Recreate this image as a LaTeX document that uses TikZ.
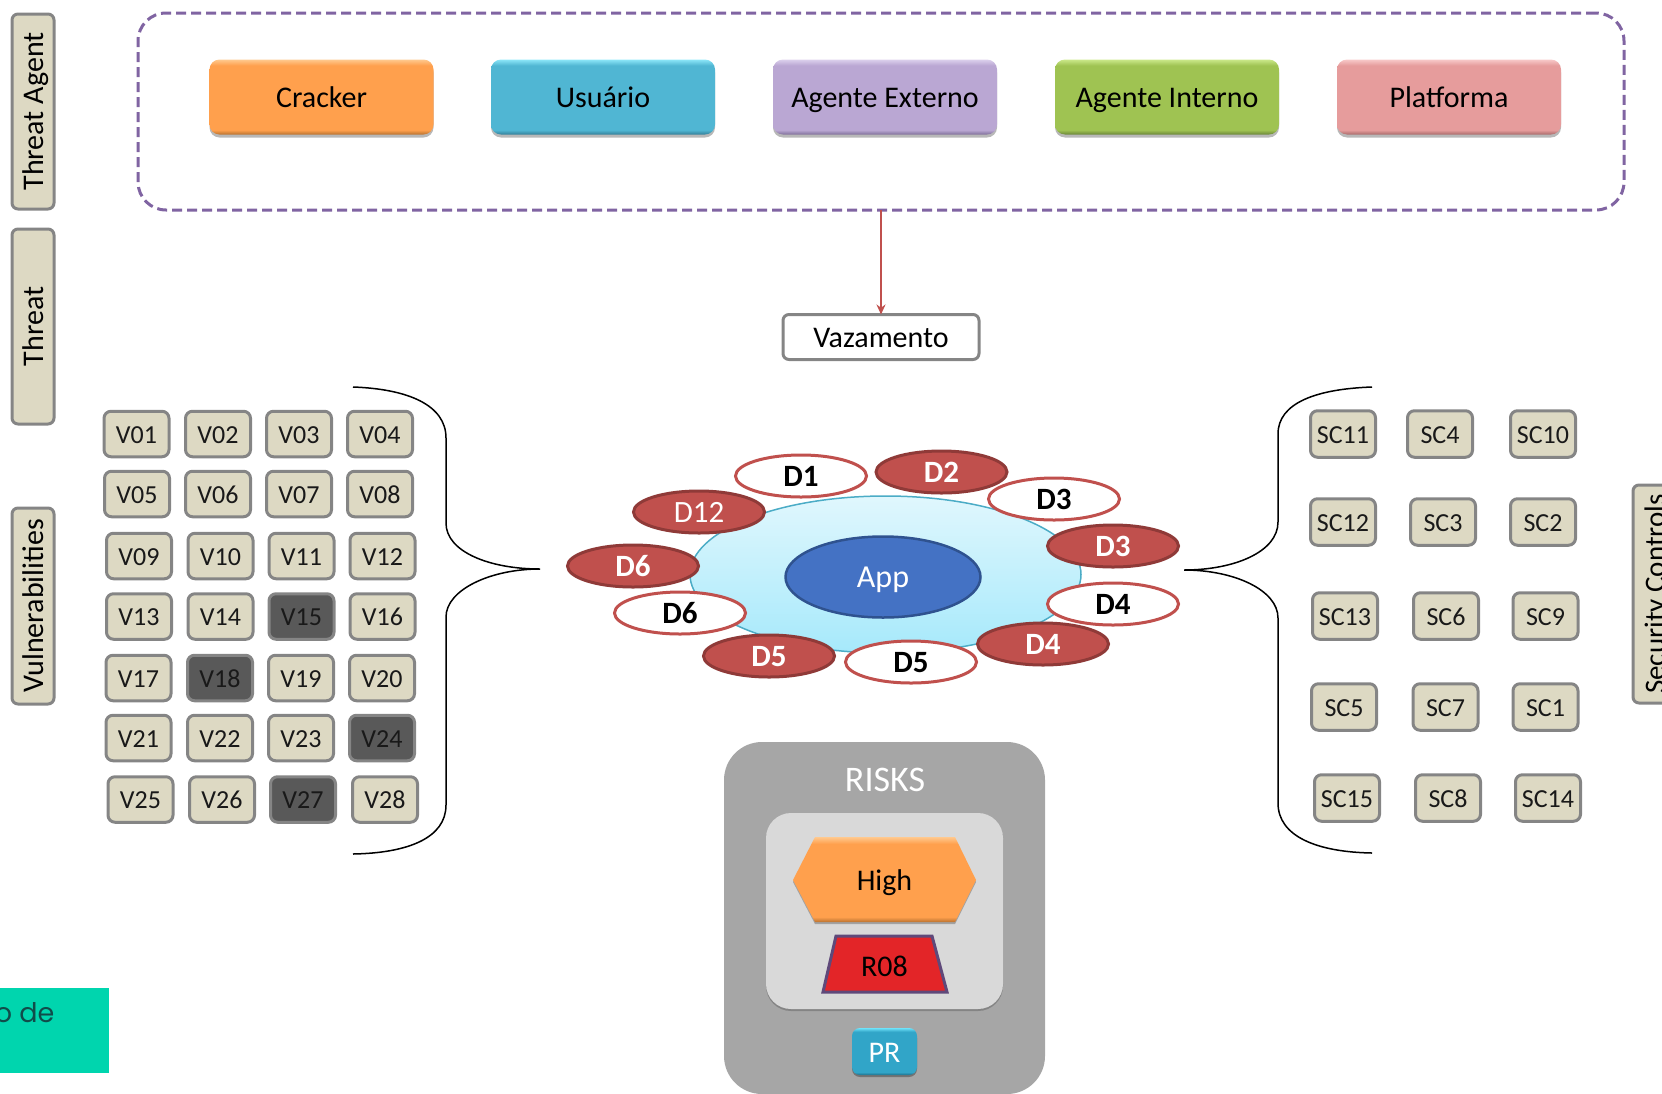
\documentclass[tikz,border=0pt]{standalone}
\usepackage{fontspec}
\setmainfont{Carlito}
\newfontfamily\tealfont{Poppins}
\usetikzlibrary{shapes.geometric,shadows,arrows.meta}
\definecolor{orgD}{HTML}{B9722F}\definecolor{orgM}{HTML}{FFA04D}\definecolor{orgL}{HTML}{FFC98F}
\definecolor{bluD}{HTML}{337F98}\definecolor{bluM}{HTML}{50B6D3}\definecolor{bluL}{HTML}{8CE6F8}
\definecolor{purD}{HTML}{80709A}\definecolor{purM}{HTML}{BAA7D3}\definecolor{purL}{HTML}{DCD0EC}
\definecolor{grnD}{HTML}{6B8539}\definecolor{grnM}{HTML}{9FC352}\definecolor{grnL}{HTML}{CBE88A}
\definecolor{pnkD}{HTML}{A86B6B}\definecolor{pnkM}{HTML}{E69C9C}\definecolor{pnkL}{HTML}{F7C9C9}
\definecolor{prD}{HTML}{1C6E8A}\definecolor{prM}{HTML}{31A5C8}\definecolor{prL}{HTML}{6FE3FA}
\definecolor{beige}{HTML}{DDD9C3}\definecolor{edgegrey}{HTML}{858585}\definecolor{darkcell}{HTML}{595959}
\definecolor{dashpurple}{HTML}{8064A2}\definecolor{redline}{HTML}{C0504D}\definecolor{reddark}{HTML}{8F3A38}
\definecolor{teal0}{HTML}{00D5AE}\definecolor{tealtext}{HTML}{114C4A}
\definecolor{cloudtop}{HTML}{E0F7FD}\definecolor{cloudbot}{HTML}{A6E9FB}\definecolor{cloudedge}{HTML}{4BACC6}
\definecolor{appfill}{HTML}{4472C4}\definecolor{appedge}{HTML}{2F528F}
\definecolor{riskred}{HTML}{E32528}\definecolor{riskedge}{HTML}{5F497A}
\newcommand\gelshade[4]{\pgfdeclareverticalshading{#1}{100bp}{color(0bp)=(#2);color(25bp)=(#2);color(28bp)=(#3);color(71bp)=(#3);color(75bp)=(#4);color(100bp)=(#4)}}
\gelshade{gelorange}{orgD}{orgM}{orgL}
\gelshade{gelblue}{bluD}{bluM}{bluL}
\gelshade{gelpurple}{purD}{purM}{purL}
\gelshade{gelgreen}{grnD}{grnM}{grnL}
\gelshade{gelpink}{pnkD}{pnkM}{pnkL}
\gelshade{gelpr}{prD}{prM}{prL}
\newcommand\fsz[1]{\fontsize{#1}{#1}\selectfont}
\tikzset{
 softshadow/.style={drop shadow={shadow xshift=0pt,shadow yshift=-3pt,opacity=.28,fill=black}},
 big/.style={text height=22.5pt,text depth=1.5pt},
 agent/.style={rectangle,rounded corners=10pt,minimum width=224pt,minimum height=75pt,inner sep=0pt,outer sep=0pt,softshadow,font=\fsz{30},text=black,big},
 sidelabel/.style={rectangle,rounded corners=6pt,draw=edgegrey,line width=3pt,fill=beige,minimum width=42pt,inner sep=0pt,outer sep=0pt},
 sidetext/.style={rotate=90,font=\fsz{#1},text=black,inner sep=0pt,big},
 cell/.style={rectangle,rounded corners=7pt,draw=edgegrey,line width=3pt,fill=beige,minimum width=65pt,minimum height=45.5pt,inner sep=0pt,outer sep=0pt,font=\fsz{26},text=black!90,text height=19.5pt,text depth=1.3pt},
 hot/.style={cell,fill=darkcell},
 redoval/.style={ellipse,fill=redline,draw=reddark,line width=3pt,minimum width=131pt,minimum height=42pt,inner sep=0pt,text=white,font=\fsz{31}\bfseries,big},
 redthin/.style={redoval,font=\fsz{31}},
 whiteoval/.style={ellipse,fill=white,draw=redline,line width=3pt,minimum width=131pt,minimum height=42pt,inner sep=0pt,text=black,font=\fsz{31}\bfseries,big},
 bracestyle/.style={draw=black,line width=1.5pt},
}
\begin{document}
\begin{tikzpicture}[x=1pt,y=-1pt]
\useasboundingbox (0,0) rectangle (1662,1093);
\clip (0,0) rectangle (1662,1093);

% side labels
\node[sidelabel,minimum height=195pt] (lagent) at (33,111.5) {};
\node[sidetext=30] (tagent) at (33,111.5) {Threat Agent};
\node[sidelabel,minimum height=195pt] (lthreat) at (33,326.5) {};
\node[sidetext=30] (tthreat) at (33,326.5) {Threat};
\node[sidelabel,minimum height=196pt] (lvuln) at (33,606) {};
\node[sidetext=30] (tvuln) at (33,606) {Vulnerabilities};
\node[sidelabel,minimum height=218pt] (lsc) at (1654,594) {};
\node[sidetext=29] (tsc) at (1654,594) {Security Controls};

% threat agents
\node[rectangle,rounded corners=28pt,draw=dashpurple,line width=3pt,dash pattern=on 10pt off 5pt,minimum width=1486pt,minimum height=197pt,outer sep=0pt,inner sep=0pt] (agents) at (881,111.5) {};
\node[agent,shading=gelorange] (cracker) at (321.5,97) {Cracker};
\node[agent,shading=gelblue] (usuario) at (603,97) {Usuário};
\node[agent,shading=gelpurple] (externo) at (885,97) {Agente Externo};
\node[agent,shading=gelgreen] (interno) at (1167,97) {Agente Interno};
\node[agent,shading=gelpink] (platforma) at (1449,97) {Platforma};

% threat
\node[rectangle,rounded corners=6pt,draw=edgegrey,line width=3pt,fill=white,minimum width=196pt,minimum height=45pt,inner sep=0pt,outer sep=0pt,font=\fsz{30},big] (vaz) at (881,337) {Vazamento};
\draw[redline,line width=2.5pt,-{Stealth[length=10pt,width=9pt]}] (agents.south) -- (vaz.north);

% vulnerabilities
\foreach \nm/\cx/\cy/\sty in {
 V01/136.5/434/cell,V02/218/434/cell,V03/299/434/cell,V04/380/434/cell,
 V05/137/494/cell,V06/218/494/cell,V07/299/494/cell,V08/380/494/cell,
 V09/139/556/cell,V10/220.5/556/cell,V11/301.5/556/cell,V12/382.5/556/cell,
 V13/139/616.5/cell,V14/220.5/616.5/cell,V15/301.5/616.5/hot,V16/382.5/616.5/cell,
 V17/138.5/678/cell,V18/220/678/hot,V19/301/678/cell,V20/382/678/cell,
 V21/138.5/738/cell,V22/220/738/cell,V23/301/738/cell,V24/382/738/hot,
 V25/140.5/799.5/cell,V26/222/799.5/cell,V27/303/799.5/hot,V28/385/799.5/cell}
 {\node[\sty] (\nm) at (\cx,\cy) {\nm};}

% security controls
\foreach \nm/\cx/\cy in {
 SC11/1343/434,SC4/1440/434,SC10/1543/434,
 SC12/1343/522,SC3/1443/522,SC2/1543/522,
 SC13/1345/616,SC6/1446/616,SC9/1545.5/616,
 SC5/1344/707,SC7/1445.5/707,SC1/1545.5/707,
 SC15/1347/798,SC8/1448/798,SC14/1548/798}
 {\node[cell,minimum height=46.5pt] (\nm) at (\cx,\cy) {\nm};}

% braces
\coordinate (lbtop) at (353,387);
\coordinate (lbtip) at (540,569);
\coordinate (lbbot) at (353,854);
\coordinate (rbtop) at (1372,387);
\coordinate (rbtip) at (1184,570);
\coordinate (rbbot) at (1372,853);
\draw[bracestyle] (lbtop) .. controls (408,389) and (446,405) .. (446,438) -- (446,523)
  .. controls (446,552) and (490,569) .. (lbtip) .. controls (490,569) and (446,590) .. (446,617)
  -- (446,805) .. controls (446,838) and (408,853) .. (lbbot);
\draw[bracestyle] (rbtop) .. controls (1316,389) and (1278,403) .. (1278,434) -- (1278,522)
  .. controls (1278,552) and (1234,570) .. (rbtip) .. controls (1234,570) and (1278,590) .. (1278,618)
  -- (1278,803) .. controls (1278,836) and (1316,852) .. (rbbot);

% application
\node[ellipse,draw=cloudedge,line width=1.5pt,top color=cloudtop,bottom color=cloudbot,minimum width=391pt,minimum height=157pt,inner sep=0pt] (cloud) at (885.5,574.5) {};
\node[ellipse,fill=appfill,draw=appedge,line width=2.5pt,minimum width=195pt,minimum height=81pt,inner sep=0pt,text=white,font=\fsz{32},big] (app) at (883,577) {App};
\node[whiteoval] (d1) at (801,476) {D1};
\node[redoval] (d2) at (941.5,472) {D2};
\node[whiteoval] (d3w) at (1054,499) {D3};
\node[redoval] (d3r) at (1113,546) {D3};
\node[whiteoval] (d4w) at (1113,604) {D4};
\node[redoval] (d4r) at (1043,644) {D4};
\node[whiteoval] (d5w) at (911,662) {D5};
\node[redoval] (d5r) at (769,656) {D5};
\node[whiteoval] (d6w) at (680,613) {D6};
\node[redoval] (d6r) at (633,566) {D6};
\node[redthin] (d12) at (699,512) {D12};

% risks
\node[rectangle,rounded corners=38pt,fill=black!35,minimum width=321pt,minimum height=352pt,inner sep=0pt,outer sep=0pt] (risks) at (884.5,918) {};
\node[text=white,font=\fsz{36},inner sep=0pt] (riskstxt) at (885,780) {RISKS};
\node[rectangle,rounded corners=25pt,fill=black!15,minimum width=237pt,minimum height=196pt,inner sep=0pt,outer sep=0pt,drop shadow={shadow xshift=0pt,shadow yshift=-2pt,opacity=.2,fill=black}] (inner) at (884.5,911) {};
\path[shading=gelorange,drop shadow={shadow xshift=0pt,shadow yshift=-2pt,opacity=.25,fill=black}] (793,880) -- (815,837) -- (955,837) -- (976,880) -- (955,922) -- (815,922) -- cycle;
\node[font=\fsz{30},inner sep=0pt,big] (high) at (884.5,879.5) {High};
\path[fill=riskred,draw=riskedge,line width=3pt,line join=miter] (836,936) -- (932,936) -- (947,992) -- (823,992) -- cycle;
\node[font=\fsz{30},inner sep=0pt,big] (r08) at (884.5,966) {R08};
\node[rectangle,rounded corners=8pt,shading=gelpr,minimum width=65pt,minimum height=47pt,inner sep=0pt,outer sep=0pt,text=white,font=\fsz{30},big,drop shadow={shadow xshift=0pt,shadow yshift=-2pt,opacity=.3,fill=black}] (pr) at (884.5,1051.5) {PR};

% teal patch
\node[rectangle,fill=teal0,minimum width=109pt,minimum height=85pt,inner sep=0pt,outer sep=0pt] (teal) at (54.5,1030.5) {};
\node[anchor=base east,text=tealtext,font=\tealfont\fsz{27},inner sep=0pt] (tealtxt) at (54.5,1022) {o de};
\end{tikzpicture}
\end{document}
